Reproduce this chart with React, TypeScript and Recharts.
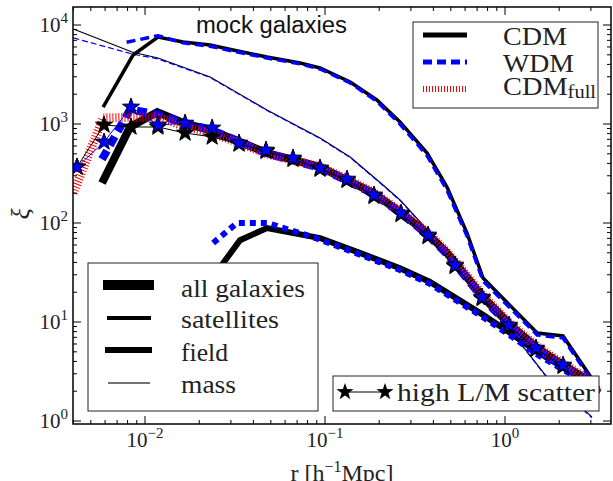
import { LineChart, Line, XAxis, YAxis } from 'recharts'

// separation r [h^-1 Mpc] and correlation function xi
const satR = [0.00585, 0.00858, 0.0118, 0.0163, 0.023, 0.0308, 0.0476, 0.0727, 0.0938, 0.138, 0.194, 0.261, 0.369, 0.476, 0.615, 0.755, 1.51, 2.1, 2.97, 3.3]
const satCdm = [1480, 4970, 7560, 6730, 6280, 5590, 4750, 4130, 3680, 2660, 1750, 1050, 509, 231, 79, 27.8, 7.74, 7.23, 2.85, 1.9]
const satWdmR = [0.0079, 0.0118, 0.0163, 0.023, 0.0308, 0.0476, 0.0727, 0.0938, 0.138, 0.194, 0.261, 0.369, 0.476, 0.615, 0.755, 1.51, 2.1, 2.97, 3.3]
const satWdm = [6700, 7800, 6600, 6100, 5450, 4650, 4050, 3600, 2600, 1700, 1000, 480, 215, 74, 26, 7.4, 6.9, 2.7, 1.85]

const massR = [0.004, 0.00847, 0.0118, 0.023, 0.0476, 0.0938, 0.138, 0.21, 0.261, 0.5, 1.07, 1.71, 3.04]
const massCdm = [9100, 5340, 4640, 2985, 1385, 723, 464, 242, 171, 47, 8.3, 2.78, 1.1]
const massWdm = [7400, 5100, 4550, 2950, 1370, 715, 458, 239, 169, 46.5, 8.2, 2.74, 1.08]

const allR = [0.00577, 0.00826, 0.0117, 0.0163, 0.023, 0.0337, 0.0476, 0.0938, 0.132, 0.185, 0.261, 0.369, 0.476, 0.541, 0.755, 1.07, 1.51, 2.1, 2.71, 3.3]
const allCdm = [254, 933, 1320, 1023, 869, 658, 509, 368, 272, 201, 129, 79, 49.8, 37.7, 17.9, 9.33, 5.46, 3.68, 2.78, 1.9]
const allWdm = [440, 1400, 1250, 1030, 880, 660, 505, 360, 268, 198, 127, 77, 48.5, 36.5, 17.3, 9.0, 5.3, 3.55, 2.7, 1.85]

const fullR = [0.004, 0.00585, 0.00826, 0.0117, 0.0163, 0.023, 0.0337, 0.0476, 0.0938, 0.132, 0.185, 0.261, 0.369, 0.476, 0.541, 0.755, 1.07, 1.51, 2.1, 2.71, 3.3]
const fullCdm = [201, 1150, 1170, 1175, 960, 820, 640, 500, 370, 278, 205, 132, 81, 51, 39, 18.5, 9.6, 5.6, 3.8, 2.85, 1.95]

const fieldR = [0.025, 0.0337, 0.0476, 0.0938, 0.156, 0.261, 0.383, 0.755, 1.07, 1.51, 2.1, 2.86, 3.3]
const fieldCdm = [32, 67, 89, 70.5, 50, 35, 25.4, 11.8, 7.74, 4.98, 3.51, 2.6, 2.1]
const fieldWdmR = [0.0239, 0.0324, 0.0476, 0.0858, 0.156, 0.261, 0.383, 0.755, 1.07, 1.51, 2.1, 2.86, 3.3]
const fieldWdm = [62.8, 100, 100, 72, 48, 33.5, 24.3, 11.2, 7.3, 4.7, 3.3, 2.45, 2.0]

// high L/M scatter runs (stars)
const starR = [0.00419, 0.00592, 0.00836, 0.0118, 0.0167, 0.0236, 0.0333, 0.047, 0.0664, 0.0938, 0.1325, 0.1872, 0.2645, 0.3736, 0.5277, 0.7454, 1.053, 1.487, 2.101]
const starCdm = [368, 977, 933, 933, 811, 740, 628, 530, 440, 350, 270, 186, 122, 73, 36.5, 17.3, 9.0, 5.3, 3.57]
const starWdm = [368, 658, 1486, 977, 1023, 912, 643, 546, 454, 360, 278, 192, 126, 75.7, 37.7, 17.9, 9.33, 5.46, 3.68]

const xMajor = [0.01, 0.1, 1]
const xMajorLabels = ['−2', '−1', '0']
const yMajor = [1, 10, 100, 1000, 10000]
const yMajorLabels = ['0', '1', '2', '3', '4']

const W = 613
const H = 481
const P = { left: 73, right: 611, top: 7, bottom: 424 }
const BLUE = '#0000ff'
const RED = '#ff0000'
const SERIF = '"Liberation Serif", "Times New Roman", serif'
const SANS = '"Liberation Sans", Arial, sans-serif'
const serifStyle = { fontFamily: SERIF }

const pts = (xs: number[], ys: number[]) => xs.map((x, i) => ({ x, y: ys[i] }))

const minors = (decades: number[]) =>
  decades.flatMap((d) => [2, 3, 4, 5, 6, 7, 8, 9].map((m) => +(d * m).toPrecision(3)))

const xTicks = [...xMajor, ...minors([0.001, 0.01, 0.1, 1]).filter((v) => v > 0.00398 && v < 3.88)]
const yTicks = [...yMajor, ...minors([1, 10, 100, 1000, 10000]).filter((v) => v < 15200)]

function XTick(props: any) {
  const { x, payload } = props
  const i = xMajor.indexOf(payload.value)
  const len = i >= 0 ? 8 : 4
  return (
    <g>
      <line x1={x} x2={x} y1={P.bottom} y2={P.bottom - len} stroke="#000" strokeWidth={1} />
      <line x1={x} x2={x} y1={P.top} y2={P.top + len} stroke="#000" strokeWidth={1} />
      {i >= 0 && (
        <text x={x} y={447} textAnchor="middle" style={serifStyle} fontSize={21} fill="#222">
          10<tspan dy={-9} fontSize={15}>{xMajorLabels[i]}</tspan>
        </text>
      )}
    </g>
  )
}

function YTick(props: any) {
  const { y, payload } = props
  const i = yMajor.indexOf(payload.value)
  const len = i >= 0 ? 8 : 4
  return (
    <g>
      <line x1={P.left} x2={P.left + len} y1={y} y2={y} stroke="#000" strokeWidth={1} />
      <line x1={P.right} x2={P.right - len} y1={y} y2={y} stroke="#000" strokeWidth={1} />
      {i >= 0 && (
        <text x={68} y={y + 7} textAnchor="end" style={serifStyle} fontSize={21} fill="#222">
          10<tspan dy={-9} fontSize={15}>{yMajorLabels[i]}</tspan>
        </text>
      )}
    </g>
  )
}

function starPath(cx: number, cy: number, R = 9, r = 3.6) {
  let d = ''
  for (let k = 0; k < 10; k++) {
    const rad = k % 2 === 0 ? R : r
    const a = -Math.PI / 2 + (k * Math.PI) / 5
    d += (k === 0 ? 'M' : 'L') + (cx + rad * Math.cos(a)).toFixed(2) + ',' + (cy + rad * Math.sin(a)).toFixed(2)
  }
  return d + 'Z'
}

const starDot = (fill: string) => (p: any) => (
  <path key={`st-${fill}-${p.index}`} d={starPath(p.cx, p.cy)} fill={fill} stroke="#000" strokeWidth={1} />
)

// legend text, stretched to the width it has in the figure
function LText({ x, y, w, children }: { x: number; y: number; w: number; children: any }) {
  return (
    <text x={x} y={y} style={serifStyle} fontSize={25} fill="#222" textLength={w} lengthAdjust="spacingAndGlyphs">
      {children}
    </text>
  )
}

function Overlay() {
  return (
    <svg width={W} height={H} style={{ position: 'absolute', left: 0, top: 0, pointerEvents: 'none' }}>
      <rect x={P.left} y={P.top} width={P.right - P.left} height={P.bottom - P.top} fill="none" stroke="#000" strokeWidth={1.5} />
      <text x={196} y={33} style={{ fontFamily: SANS }} fontSize={23} fill="#111" textLength={151} lengthAdjust="spacingAndGlyphs">
        mock galaxies
      </text>

      {/* model legend */}
      <rect x={413} y={22} width={185} height={86} fill="#fff" stroke="#222" strokeWidth={1} />
      <line x1={423} x2={467} y1={35} y2={35} stroke="#000" strokeWidth={5} />
      <line x1={423} x2={467} y1={62} y2={62} stroke={BLUE} strokeWidth={5} strokeDasharray="9 5" />
      <line x1={423} x2={466} y1={89} y2={89} stroke={RED} strokeWidth={6} strokeDasharray="1 2" />
      <LText x={503} y={45} w={64}>CDM</LText>
      <LText x={503} y={72} w={71}>WDM</LText>
      <LText x={503} y={95} w={93}>CDM<tspan fontSize={18} dy={3}>full</tspan></LText>

      {/* sample legend */}
      <rect x={88} y={263} width={230} height={148} fill="#fff" stroke="#222" strokeWidth={1} />
      <line x1={103} x2={154} y1={285} y2={285} stroke="#000" strokeWidth={10} />
      <line x1={107} x2={151} y1={318} y2={318} stroke="#000" strokeWidth={4} />
      <line x1={105} x2={152} y1={350} y2={350} stroke="#000" strokeWidth={6} />
      <line x1={108} x2={150} y1={383} y2={383} stroke="#444" strokeWidth={1.5} />
      <LText x={181} y={297} w={124}>all galaxies</LText>
      <LText x={181} y={328} w={98}>satellites</LText>
      <LText x={181} y={361} w={47}>field</LText>
      <LText x={181} y={393} w={55}>mass</LText>

      {/* scatter legend */}
      <rect x={333} y={376} width={266} height={35} fill="#fff" stroke="#222" strokeWidth={1} />
      <line x1={345} x2={385} y1={392} y2={392} stroke="#000" strokeWidth={1.2} />
      <path d={starPath(345, 392)} fill="#000" />
      <path d={starPath(385, 392)} fill="#000" />
      <LText x={397} y={401} w={198}>high L/M scatter</LText>

      <text transform="translate(29,214) rotate(-90)" textAnchor="middle" style={serifStyle} fontStyle="italic" fontSize={26} fill="#222">ξ</text>
      <text x={342} y={481} textAnchor="middle" style={serifStyle} fontSize={24} fill="#222">
        r [h<tspan dy={-9} fontSize={16}>−1</tspan><tspan dy={9}>Mpc]</tspan>
      </text>
    </svg>
  )
}

export default function App() {
  return (
    <div style={{ position: 'absolute', left: 0, top: 0, width: W, height: H, background: '#fff' }}>
      <LineChart width={W} height={H} margin={{ top: 7, right: 2, left: 0, bottom: 0 }}>
        <XAxis
          dataKey="x" type="number" scale="log" domain={[0.00398, 3.88]} allowDataOverflow
          ticks={xTicks} interval={0} height={57} axisLine={false} tickLine={false}
          tick={(p: any) => <XTick {...p} />}
        />
        <YAxis
          dataKey="y" type="number" scale="log" domain={[0.933, 15200]} allowDataOverflow
          ticks={yTicks} interval={0} width={73} axisLine={false} tickLine={false}
          tick={(p: any) => <YTick {...p} />}
        />
        <Line data={pts(massR, massCdm)} dataKey="y" stroke="#000" strokeWidth={1.2} dot={false} isAnimationActive={false} />
        <Line data={pts(massR, massWdm)} dataKey="y" stroke={BLUE} strokeWidth={1.2} strokeDasharray="6 3" dot={false} isAnimationActive={false} />
        <Line data={pts(satR, satCdm)} dataKey="y" stroke="#000" strokeWidth={3.5} dot={false} isAnimationActive={false} />
        <Line data={pts(satWdmR, satWdm)} dataKey="y" stroke={BLUE} strokeWidth={3.5} strokeDasharray="9 5" dot={false} isAnimationActive={false} />
        <Line data={pts(fieldR, fieldCdm)} dataKey="y" stroke="#000" strokeWidth={6} dot={false} isAnimationActive={false} />
        <Line data={pts(fieldWdmR, fieldWdm)} dataKey="y" stroke={BLUE} strokeWidth={6} strokeDasharray="6 5" dot={false} isAnimationActive={false} />
        <Line data={pts(allR, allCdm)} dataKey="y" stroke="#000" strokeWidth={8} dot={false} isAnimationActive={false} />
        <Line data={pts(allR, allWdm)} dataKey="y" stroke={BLUE} strokeWidth={8} strokeDasharray="10 6" dot={false} isAnimationActive={false} />
        <Line data={pts(fullR, fullCdm)} dataKey="y" stroke={RED} strokeWidth={9} strokeDasharray="1 2" dot={false} isAnimationActive={false} />
        <Line data={pts(starR, starCdm)} dataKey="y" stroke="#000" strokeWidth={1} dot={starDot('#000')} isAnimationActive={false} />
        <Line data={pts(starR, starWdm)} dataKey="y" stroke={BLUE} strokeWidth={1} dot={starDot(BLUE)} isAnimationActive={false} />
      </LineChart>
      <Overlay />
    </div>
  )
}
